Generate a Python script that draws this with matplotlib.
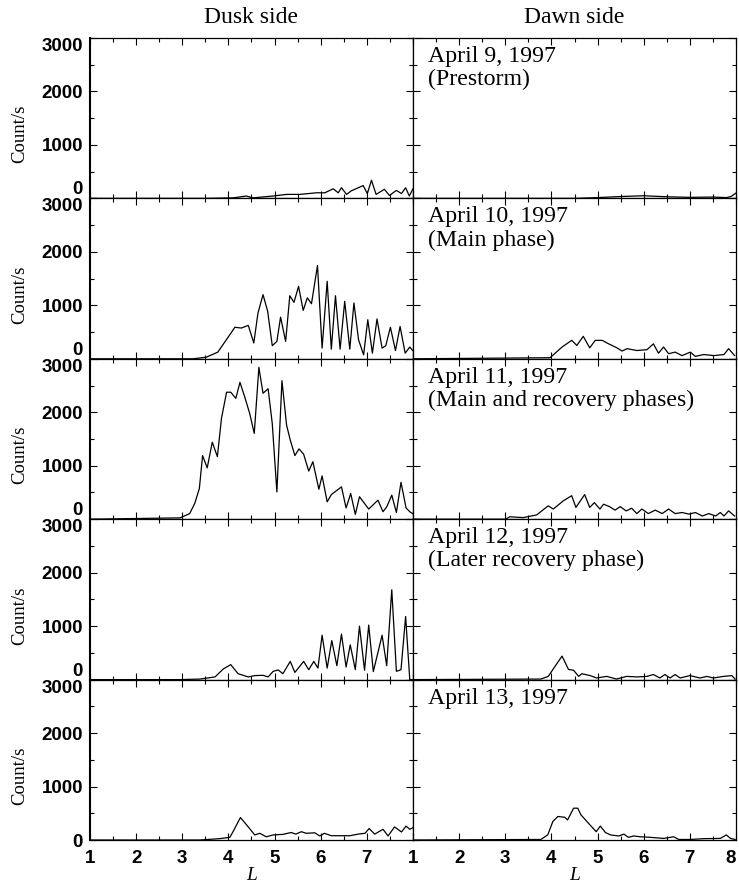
import numpy as np
import matplotlib.pyplot as plt
from matplotlib.gridspec import GridSpec
from matplotlib.ticker import MultipleLocator

# NOAA proton counts vs L, dusk and dawn sides, April 9-13 1997

days = ['April 9, 1997\n(Prestorm)',
        'April 10, 1997\n(Main phase)',
        'April 11, 1997\n(Main and recovery phases)',
        'April 12, 1997\n(Later recovery phase)',
        'April 13, 1997']

# dusk side
dusk_L_0409 = [1.0, 3.5, 4.1, 4.39, 4.53, 4.97, 5.26, 5.55, 5.91, 6.09, 6.27, 6.38, 6.45, 6.56,
               6.66, 6.92, 7.01, 7.1, 7.2, 7.38, 7.49, 7.64, 7.75, 7.84, 7.92, 8.0]
dusk_c_0409 = [0, 0, 10, 45, 10, 45, 75, 75, 105, 105, 180, 105, 200, 75,
               140, 240, 90, 340, 75, 170, 55, 150, 90, 200, 45, 180]

dusk_L_0410 = [1.0, 3.23, 3.52, 3.77, 4.03, 4.14, 4.28, 4.43, 4.55, 4.64, 4.75, 4.85, 4.95, 5.05,
               5.13, 5.24, 5.33, 5.42, 5.52, 5.62, 5.71, 5.80, 5.93, 6.03, 6.14, 6.23, 6.32,
               6.42, 6.52, 6.63, 6.72, 6.82, 6.93, 7.02, 7.12, 7.22, 7.33, 7.41, 7.51, 7.62,
               7.72, 7.83, 7.93, 8.0]
dusk_c_0410 = [0, 0, 30, 125, 450, 590, 575, 625, 295, 855, 1200, 890, 245, 325,
               780, 325, 1180, 1055, 1355, 905, 1140, 1030, 1745, 200, 1450, 180, 1180,
               180, 1075, 180, 1045, 355, 75, 730, 105, 745, 200, 245, 590, 155,
               605, 105, 220, 150]

dusk_L_0411 = [1.0, 2.95, 3.16, 3.27, 3.37, 3.44, 3.54, 3.65, 3.76, 3.85, 3.96, 4.05, 4.16, 4.25,
               4.35, 4.46, 4.56, 4.66, 4.75, 4.86, 4.95, 5.05, 5.16, 5.26, 5.34, 5.44, 5.53,
               5.63, 5.74, 5.83, 5.96, 6.03, 6.14, 6.23, 6.45, 6.55, 6.65, 6.75, 6.84, 7.04,
               7.24, 7.35, 7.43, 7.54, 7.64, 7.74, 7.85, 7.93, 8.0]
dusk_c_0411 = [0, 25, 105, 295, 575, 1190, 960, 1440, 1170, 1890, 2375, 2375, 2260, 2560,
               2295, 1980, 1605, 2840, 2355, 2440, 1790, 510, 2590, 1760, 1480, 1190, 1315,
               1215, 900, 1075, 560, 810, 325, 460, 605, 210, 480, 90, 420, 190,
               355, 140, 230, 450, 125, 690, 210, 140, 100]

dusk_L_0412 = [1.0, 2.95, 3.38, 3.71, 3.89, 4.05, 4.21, 4.43, 4.57, 4.75, 4.86, 4.97, 5.08, 5.18,
               5.34, 5.44, 5.63, 5.74, 5.85, 5.94, 6.03, 6.14, 6.24, 6.35, 6.45, 6.55, 6.64,
               6.75, 6.84, 6.95, 7.04, 7.14, 7.33, 7.43, 7.54, 7.64, 7.74, 7.84, 7.93, 8.0]
dusk_c_0412 = [0, 0, 10, 50, 200, 280, 110, 50, 75, 80, 50, 155, 180, 110,
               340, 135, 340, 185, 340, 215, 830, 215, 730, 260, 850, 235, 650,
               185, 1000, 175, 1020, 150, 830, 260, 1680, 155, 185, 1180, 0, 0]

dusk_L_0413 = [1.0, 3.38, 3.81, 4.03, 4.10, 4.26, 4.43, 4.57, 4.68, 4.82, 4.97, 5.18, 5.36, 5.46,
               5.58, 5.69, 5.87, 5.98, 6.08, 6.23, 6.63, 6.81, 6.96, 7.05, 7.17, 7.35, 7.46,
               7.60, 7.75, 7.85, 7.93, 8.0]
dusk_c_0413 = [0, 0, 25, 50, 155, 420, 245, 95, 125, 60, 95, 105, 140, 110,
               155, 125, 135, 75, 125, 80, 80, 110, 125, 215, 110, 200, 75,
               245, 150, 260, 200, 230]

# dawn side
dawn_L_0409 = [1.0, 4.5, 5.0, 5.5, 6.0, 6.5, 7.0, 7.5, 7.8, 7.9, 8.0]
dawn_c_0409 = [0, 0, 15, 35, 50, 30, 20, 25, 15, 40, 100]

dawn_L_0410 = [1.0, 3.97, 4.23, 4.44, 4.55, 4.69, 4.83, 4.95, 5.10, 5.24, 5.42, 5.53, 5.64, 5.85,
               6.07, 6.21, 6.32, 6.43, 6.54, 6.68, 6.83, 7.01, 7.12, 7.30, 7.52, 7.74, 7.84, 7.97]
dawn_c_0410 = [0, 20, 220, 345, 250, 420, 205, 345, 345, 280, 205, 145, 190, 155,
               170, 280, 105, 220, 95, 125, 60, 125, 45, 80, 60, 80, 190, 60]

dawn_L_0411 = [1.0, 3.0, 3.1, 3.39, 3.68, 3.93, 4.04, 4.26, 4.44, 4.53, 4.72, 4.83, 4.93, 5.05,
               5.13, 5.26, 5.38, 5.49, 5.62, 5.74, 5.85, 5.96, 6.10, 6.25, 6.40, 6.54, 6.68,
               6.83, 6.98, 7.12, 7.27, 7.41, 7.56, 7.66, 7.74, 7.84, 7.97]
dawn_c_0411 = [0, 0, 45, 30, 80, 250, 190, 345, 440, 220, 460, 220, 310, 190,
               280, 235, 170, 235, 155, 205, 105, 190, 105, 170, 105, 190, 105,
               125, 95, 125, 60, 105, 60, 125, 60, 155, 60]

dawn_L_0412 = [1.0, 3.77, 3.93, 4.08, 4.23, 4.37, 4.48, 4.59, 4.66, 4.84, 4.98, 5.20, 5.41, 5.63,
               5.85, 6.07, 6.21, 6.35, 6.46, 6.57, 6.68, 6.79, 7.00, 7.22, 7.37, 7.51, 7.73,
               7.91, 7.98]
dawn_c_0412 = [0, 10, 60, 250, 440, 190, 175, 60, 110, 75, 30, 60, 10, 60,
               50, 60, 95, 30, 95, 30, 95, 30, 75, 30, 60, 30, 60,
               75, 10]

dawn_L_0413 = [1.0, 3.77, 3.92, 4.03, 4.14, 4.29, 4.35, 4.48, 4.57, 4.64, 4.77, 4.97, 5.06, 5.17,
               5.28, 5.46, 5.57, 5.67, 5.78, 5.93, 6.14, 6.43, 6.65, 6.76, 7.01, 7.30, 7.66,
               7.79, 7.88, 7.98]
dawn_c_0413 = [0, 10, 95, 345, 440, 425, 375, 595, 595, 470, 345, 155, 260, 140,
               95, 75, 110, 50, 75, 60, 50, 30, 60, 10, 10, 25, 30,
               95, 30, 10]

dusk = [(dusk_L_0409, dusk_c_0409), (dusk_L_0410, dusk_c_0410), (dusk_L_0411, dusk_c_0411),
        (dusk_L_0412, dusk_c_0412), (dusk_L_0413, dusk_c_0413)]
dawn = [(dawn_L_0409, dawn_c_0409), (dawn_L_0410, dawn_c_0410), (dawn_L_0411, dawn_c_0411),
        (dawn_L_0412, dawn_c_0412), (dawn_L_0413, dawn_c_0413)]

tickfont = {'family': 'Liberation Sans', 'weight': 'bold', 'size': 13.5}

fig = plt.figure(figsize=(7.39, 8.86), dpi=100)
gs = GridSpec(5, 2, figure=fig, left=90/739, right=736/739, top=1-38/886, bottom=1-840/886,
              hspace=0, wspace=0)

for i in range(5):
    for j, data in enumerate([dusk, dawn]):
        ax = fig.add_subplot(gs[i, j])
        L, c = data[i]
        ax.plot(L, c, color='k', lw=0.9)
        ax.set_xlim(1, 8)
        ax.set_ylim(0, 3000)
        ax.set_yticks([0, 1000, 2000, 3000])
        ax.set_xticks(range(1, 9))
        ax.xaxis.set_minor_locator(MultipleLocator(0.5))
        ax.yaxis.set_minor_locator(MultipleLocator(500))
        ax.tick_params(which='both', direction='in', top=True, right=True, width=0.8)
        ax.tick_params(which='major', length=5)
        ax.tick_params(which='minor', length=3)
        for sp in ax.spines.values():
            sp.set_linewidth(0.9)

        if j == 0:
            ax.set_yticklabels(['0', '1000', '2000', '3000'], fontdict=tickfont)
            ax.tick_params(axis='y', pad=5)
            yt = ax.yaxis.get_major_ticks()
            if i < 4:
                yt[0].label1.set_va('bottom')
            yt[-1].label1.set_va('top')
            ax.set_ylabel('Count/s', family='Liberation Serif', size=13.5)
            ax.yaxis.set_label_coords(-0.19, 0.4)
            ax.spines['left'].set_linewidth(1.5)
        else:
            ax.set_yticklabels([])
            ax.text(0.045, 0.95, days[i], transform=ax.transAxes, va='top', ha='left',
                    family='Liberation Serif', size=17.2, linespacing=1.12)

        if i == 4:
            labs = [str(k) for k in range(1, 9)]
            if j == 0:
                labs[-1] = ''
            ax.set_xticklabels(labs, fontdict=tickfont)
            ax.tick_params(axis='x', pad=7)
            if j == 1:
                ax.xaxis.get_major_ticks()[-1].label1.set_ha('right')
            ax.set_xlabel('L', family='Liberation Serif', style='italic', size=14, labelpad=0)
        else:
            ax.set_xticklabels([])

        if i == 0:
            ax.set_title(['Dusk side', 'Dawn side'][j], family='Liberation Serif', size=17, pad=11)

plt.savefig('out.png', dpi=100)
